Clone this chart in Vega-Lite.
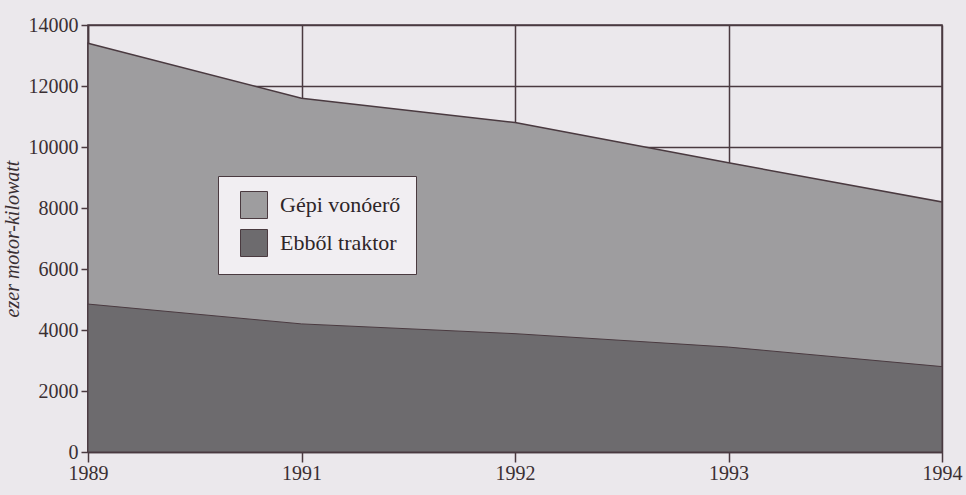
{
  "$schema": "https://vega.github.io/schema/vega-lite/v6.json",
  "autosize": "none",
  "width": 854,
  "height": 427,
  "padding": {"left": 88, "top": 25, "right": 24, "bottom": 43},
  "background": "#ebe8ec",
  "config": {
    "view": {"stroke": "#4a3a40", "strokeWidth": 1.5},
    "axis": {
      "labelFont": "Liberation Serif",
      "labelFontSize": 20,
      "labelColor": "#3a2f33",
      "domainColor": "#4a3a40",
      "tickColor": "#4a3a40",
      "gridColor": "#4a3a40",
      "gridOpacity": 1,
      "gridWidth": 1.5,
      "domainWidth": 1.5,
      "tickWidth": 1.5
    }
  },
  "data": {
    "values": [
      {"year": "1989", "series": "Gépi vonóerő", "value": 13400},
      {"year": "1991", "series": "Gépi vonóerő", "value": 11600},
      {"year": "1992", "series": "Gépi vonóerő", "value": 10800},
      {"year": "1993", "series": "Gépi vonóerő", "value": 9480},
      {"year": "1994", "series": "Gépi vonóerő", "value": 8200},
      {"year": "1989", "series": "Ebből traktor", "value": 4850},
      {"year": "1991", "series": "Ebből traktor", "value": 4200},
      {"year": "1992", "series": "Ebből traktor", "value": 3880},
      {"year": "1993", "series": "Ebből traktor", "value": 3440},
      {"year": "1994", "series": "Ebből traktor", "value": 2800}
    ]
  },
  "encoding": {
    "x": {
      "field": "year",
      "type": "ordinal",
      "scale": {"type": "point", "padding": 0},
      "axis": {"title": null, "labelAngle": 0, "tickSize": 10, "labelPadding": 1, "grid": true}
    },
    "y": {
      "field": "value",
      "type": "quantitative",
      "scale": {"domain": [0, 14000], "nice": false},
      "stack": null,
      "axis": {
        "values": [0, 2000, 4000, 6000, 8000, 10000, 12000, 14000],
        "format": "d",
        "tickSize": 7,
        "labelPadding": 3,
        "title": "ezer motor-kilowatt",
        "titleFont": "Liberation Serif",
        "titleFontStyle": "italic",
        "titleFontWeight": "normal",
        "titleFontSize": 20,
        "titleColor": "#3a2f33",
        "titlePadding": 6,
        "grid": true
      }
    },
    "color": {
      "field": "series",
      "type": "nominal",
      "scale": {"domain": ["Gépi vonóerő", "Ebből traktor"], "range": ["#9e9d9f", "#6d6b6e"]},
      "legend": {
        "title": null,
        "orient": "none",
        "legendX": 130,
        "legendY": 151,
        "padding": 15,
        "strokeColor": "#4a3a40",
        "fillColor": "#f1eef2",
        "symbolType": "square",
        "symbolSize": 729,
        "symbolOffset": 7,
        "symbolStrokeColor": "#4a3a40",
        "symbolStrokeWidth": 1,
        "symbolOpacity": 1,
        "labelFont": "Liberation Serif",
        "labelFontSize": 22,
        "labelColor": "#2e2528",
        "labelOffset": 12,
        "rowPadding": 6,
        "labelLimit": 300
      }
    }
  },
  "layer": [
    {
      "transform": [{"filter": "datum.series === 'Gépi vonóerő'"}],
      "mark": {"type": "area", "stroke": "#4a3a40", "strokeWidth": 1.5, "opacity": 1}
    },
    {
      "transform": [{"filter": "datum.series === 'Ebből traktor'"}],
      "mark": {"type": "area", "stroke": "#4a3a40", "strokeWidth": 1, "opacity": 1}
    }
  ]
}
